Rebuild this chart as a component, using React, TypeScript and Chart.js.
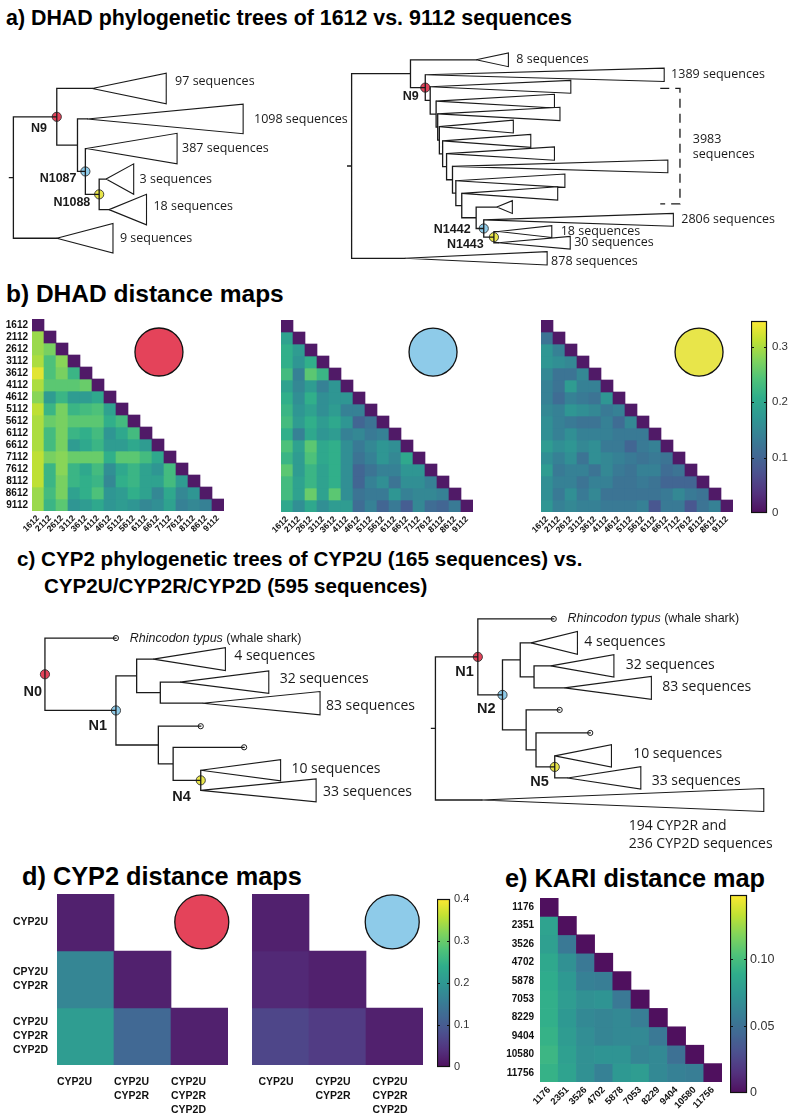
import React, { useEffect, useRef } from 'react';
import { Chart, registerables } from 'chart.js';

Chart.register(...registerables);

const SANS = '"Liberation Sans", Arial, Helvetica, sans-serif';
const HUM = '"Open Sans", "Noto Sans", sans-serif';
const RED = '#e4435a';
const BLUE = '#8ecbe9';
const YELLOW = '#e8e54a';

// ---------------- DATA: DHAD distance maps (lower triangle, row i has columns 0..i-1) ----------------
const DHAD_LABELS = ['1612', '2112', '2612', '3112', '3612', '4112', '4612', '5112', '5612', '6112', '6612', '7112', '7612', '8112', '8612', '9112'];
const DHAD_N9 = [
  [0.29],
  [0.29, 0.27],
  [0.30, 0.24, 0.28],
  [0.33, 0.24, 0.27, 0.22],
  [0.30, 0.25, 0.25, 0.25, 0.26],
  [0.28, 0.18, 0.22, 0.18, 0.18, 0.20],
  [0.31, 0.22, 0.27, 0.22, 0.23, 0.24, 0.19],
  [0.30, 0.26, 0.27, 0.25, 0.25, 0.25, 0.21, 0.23],
  [0.30, 0.23, 0.27, 0.22, 0.21, 0.23, 0.17, 0.20, 0.23],
  [0.30, 0.23, 0.27, 0.18, 0.20, 0.22, 0.18, 0.18, 0.20, 0.18],
  [0.31, 0.27, 0.28, 0.26, 0.26, 0.26, 0.21, 0.25, 0.25, 0.23, 0.20],
  [0.31, 0.22, 0.28, 0.22, 0.20, 0.23, 0.16, 0.20, 0.22, 0.19, 0.17, 0.23],
  [0.31, 0.22, 0.27, 0.22, 0.21, 0.22, 0.15, 0.21, 0.22, 0.19, 0.19, 0.23, 0.18],
  [0.29, 0.23, 0.27, 0.19, 0.21, 0.24, 0.17, 0.18, 0.21, 0.19, 0.15, 0.20, 0.15, 0.17],
  [0.29, 0.22, 0.25, 0.17, 0.18, 0.20, 0.17, 0.18, 0.17, 0.15, 0.16, 0.19, 0.14, 0.15, 0.14],
];
const DHAD_N1087 = [
  [0.19],
  [0.21, 0.18],
  [0.21, 0.17, 0.21],
  [0.23, 0.14, 0.25, 0.22],
  [0.19, 0.15, 0.18, 0.14, 0.17],
  [0.21, 0.16, 0.21, 0.16, 0.17, 0.17],
  [0.22, 0.17, 0.19, 0.16, 0.18, 0.14, 0.14],
  [0.23, 0.18, 0.21, 0.18, 0.20, 0.17, 0.10, 0.12],
  [0.21, 0.14, 0.20, 0.17, 0.18, 0.14, 0.15, 0.13, 0.14],
  [0.24, 0.19, 0.25, 0.20, 0.21, 0.16, 0.13, 0.15, 0.17, 0.16],
  [0.22, 0.18, 0.24, 0.20, 0.21, 0.16, 0.12, 0.14, 0.17, 0.15, 0.20],
  [0.25, 0.18, 0.22, 0.19, 0.21, 0.16, 0.10, 0.12, 0.14, 0.14, 0.17, 0.17],
  [0.23, 0.19, 0.22, 0.19, 0.21, 0.16, 0.10, 0.14, 0.16, 0.12, 0.16, 0.16, 0.14],
  [0.23, 0.19, 0.26, 0.19, 0.25, 0.16, 0.12, 0.13, 0.13, 0.17, 0.14, 0.15, 0.15, 0.14],
  [0.20, 0.16, 0.20, 0.16, 0.18, 0.18, 0.11, 0.14, 0.10, 0.13, 0.09, 0.15, 0.11, 0.10, 0.13],
];
const DHAD_N1088 = [
  [0.12],
  [0.17, 0.14],
  [0.17, 0.16, 0.15],
  [0.15, 0.12, 0.12, 0.15],
  [0.14, 0.12, 0.18, 0.14, 0.14],
  [0.14, 0.11, 0.14, 0.13, 0.12, 0.17],
  [0.15, 0.14, 0.17, 0.16, 0.15, 0.13, 0.14],
  [0.16, 0.14, 0.13, 0.12, 0.12, 0.14, 0.11, 0.15],
  [0.16, 0.14, 0.16, 0.14, 0.14, 0.14, 0.13, 0.13, 0.13],
  [0.18, 0.16, 0.17, 0.15, 0.16, 0.13, 0.13, 0.10, 0.13, 0.14],
  [0.16, 0.14, 0.16, 0.12, 0.16, 0.15, 0.14, 0.13, 0.12, 0.13, 0.12],
  [0.18, 0.13, 0.14, 0.14, 0.12, 0.15, 0.13, 0.12, 0.14, 0.14, 0.11, 0.12],
  [0.16, 0.14, 0.14, 0.12, 0.14, 0.14, 0.12, 0.12, 0.13, 0.12, 0.10, 0.10, 0.10],
  [0.16, 0.13, 0.16, 0.13, 0.15, 0.12, 0.12, 0.12, 0.12, 0.12, 0.13, 0.15, 0.13, 0.12],
  [0.17, 0.14, 0.15, 0.14, 0.14, 0.13, 0.13, 0.13, 0.14, 0.08, 0.13, 0.13, 0.08, 0.12, 0.14],
];
const DHAD_DIAG = 0.01;
const DHAD_VMAX = 0.346;
const DHAD_CBAR_TICKS = [0, 0.1, 0.2, 0.3];

// ---------------- DATA: CYP2 distance maps ----------------
const CYP2_ROW_LABELS = [['CYP2U'], ['CPY2U', 'CYP2R'], ['CYP2U', 'CYP2R', 'CYP2D']];
const CYP2_COL_LABELS = [['CYP2U'], ['CYP2U', 'CYP2R'], ['CYP2U', 'CYP2R', 'CYP2D']];
const CYP2_N0 = [[0.17], [0.21, 0.12]];
const CYP2_N1 = [[0.03], [0.068, 0.055]];
const CYP2_DIAG = 0.02;
const CYP2_VMAX = 0.4;
const CYP2_CBAR_TICKS = [0, 0.1, 0.2, 0.3, 0.4];

// ---------------- DATA: KARI distance map ----------------
const KARI_LABELS = ['1176', '2351', '3526', '4702', '5878', '7053', '8229', '9404', '10580', '11756'];
const KARI = [
  [0.082],
  [0.080, 0.055],
  [0.085, 0.070, 0.055],
  [0.088, 0.075, 0.060, 0.058],
  [0.090, 0.078, 0.070, 0.072, 0.055],
  [0.090, 0.075, 0.065, 0.062, 0.065, 0.058],
  [0.092, 0.077, 0.068, 0.062, 0.065, 0.065, 0.055],
  [0.095, 0.080, 0.070, 0.072, 0.072, 0.062, 0.065, 0.050],
  [0.092, 0.082, 0.070, 0.060, 0.075, 0.078, 0.065, 0.060, 0.058],
];
const KARI_DIAG = 0;
const KARI_VMAX = 0.148;
const KARI_CBAR_TICKS = [0, 0.05, 0.1];

// ---------------- DATA: trees (depth = horizontal branch position, pos = leaf vertical position) ----------------
type TreeNode = { id: string; parent?: string; depth: number; pos?: number; clade?: [number, number]; tip?: boolean; mark?: string; stub?: boolean };
type TreeLabel = { id: string; text: string; gap?: number; dy?: number };
type NodeLabel = { id: string; text: string; dx: number; dy: number };

const TREE_DHAD_1612: TreeNode[] = [
  { id: 'root', depth: 8, stub: true },
  { id: 'N9', parent: 'root', depth: 52, mark: RED },
  { id: 'c97', parent: 'N9', depth: 88, pos: 85, clade: [75, 16] },
  { id: 'n73', parent: 'N9', depth: 73 },
  { id: 'c1098', parent: 'n73', depth: 83, pos: 117, clade: [158, 15.5] },
  { id: 'N1087', parent: 'n73', depth: 81, mark: BLUE },
  { id: 'c387', parent: 'N1087', depth: 82, pos: 148, clade: [92, 16] },
  { id: 'N1088', parent: 'N1087', depth: 95, mark: YELLOW },
  { id: 'c3', parent: 'N1088', depth: 102, pos: 180, clade: [28, 16] },
  { id: 'c18', parent: 'N1088', depth: 105, pos: 212, clade: [38, 16] },
  { id: 'c9', parent: 'root', depth: 52, pos: 242, clade: [57, 15.5] },
];
const LABELS_DHAD_1612: TreeLabel[] = [
  { id: 'c97', text: '97 sequences', gap: 9, dy: -7 },
  { id: 'c1098', text: '1098 sequences', gap: 11 },
  { id: 'c387', text: '387 sequences', gap: 5 },
  { id: 'c3', text: '3 sequences', gap: 6 },
  { id: 'c18', text: '18 sequences', gap: 7, dy: -3 },
  { id: 'c9', text: '9 sequences', gap: 7 },
];
const NODES_DHAD_1612: NodeLabel[] = [
  { id: 'N9', text: 'N9', dx: -10, dy: 12 },
  { id: 'N1087', text: 'N1087', dx: -9, dy: 7 },
  { id: 'N1088', text: 'N1088', dx: -9, dy: 9 },
];

const TREE_DHAD_9112: TreeNode[] = [
  { id: 'root', depth: 351, stub: true },
  { id: 'P', parent: 'root', depth: 410.7 },
  { id: 'c8', parent: 'P', depth: 477.3, pos: 55, clade: [32.7, 7.2] },
  { id: 'N9', parent: 'P', depth: 425.7, mark: RED },
  { id: 'c1389', parent: 'N9', depth: 425.7, pos: 70.7, clade: [242.3, 7] },
  { id: 'L1', parent: 'N9', depth: 430.7 },
  { id: 't1', parent: 'L1', depth: 430.7, pos: 83.3, clade: [142.6, 6.7] },
  { id: 'L2', parent: 'L1', depth: 436.7 },
  { id: 't2', parent: 'L2', depth: 436.7, pos: 98.3, clade: [120, 7.2] },
  { id: 'L3', parent: 'L2', depth: 438.3 },
  { id: 't3', parent: 'L3', depth: 438.3, pos: 111.7, clade: [124, 7] },
  { id: 'L4', parent: 'L3', depth: 440 },
  { id: 't4', parent: 'L4', depth: 440, pos: 125, clade: [75, 6.7] },
  { id: 'L5', parent: 'L4', depth: 443.3 },
  { id: 't5', parent: 'L5', depth: 443.3, pos: 140, clade: [89.4, 6.8] },
  { id: 'L6', parent: 'L5', depth: 447.3 },
  { id: 't6', parent: 'L6', depth: 447.3, pos: 153.3, clade: [109.4, 7] },
  { id: 'L7', parent: 'L6', depth: 453.3 },
  { id: 't7', parent: 'L7', depth: 453.3, pos: 166.7, clade: [218.4, 6.7] },
  { id: 'L8', parent: 'L7', depth: 456.7 },
  { id: 't8', parent: 'L8', depth: 456.7, pos: 181.7, clade: [110.6, 7] },
  { id: 'L9', parent: 'L8', depth: 462.7 },
  { id: 't9', parent: 'L9', depth: 462.7, pos: 195, clade: [97.3, 7] },
  { id: 'L10', parent: 'L9', depth: 477.3 },
  { id: 't10', parent: 'L10', depth: 498.3, pos: 209.3, clade: [15.7, 6.7] },
  { id: 'N1442', parent: 'L10', depth: 485, mark: BLUE },
  { id: 'c2806', parent: 'N1442', depth: 485, pos: 222.7, clade: [192.3, 6.7] },
  { id: 'N1443', parent: 'N1442', depth: 495.3, mark: YELLOW },
  { id: 'c18', parent: 'N1443', depth: 500, pos: 235, clade: [54, 6.2] },
  { id: 'c30', parent: 'N1443', depth: 500, pos: 246.7, clade: [72.7, 6.7] },
  { id: 'c878', parent: 'root', depth: 405, pos: 263, clade: [144.3, 7] },
];
const LABELS_DHAD_9112: TreeLabel[] = [
  { id: 'c8', text: '8 sequences', gap: 8 },
  { id: 'c1389', text: '1389 sequences', gap: 7 },
  { id: 'c2806', text: '2806 sequences', gap: 8 },
  { id: 'c18', text: '18 sequences', gap: 9 },
  { id: 'c30', text: '30 sequences', gap: 4 },
  { id: 'c878', text: '878 sequences', gap: 4, dy: 3 },
];
const NODES_DHAD_9112: NodeLabel[] = [
  { id: 'N9', text: 'N9', dx: -6.7, dy: 9 },
  { id: 'N1442', text: 'N1442', dx: -13.3, dy: 1 },
  { id: 'N1443', text: 'N1443', dx: -10.3, dy: 8 },
];
const DHAD_BRACKET = { x0: 664, x1: 684, y0: 85, y1: 206, lines: ['3983', 'sequences'] };

const TREE_CYP2U: TreeNode[] = [
  { id: 'N0', depth: 40, mark: RED },
  { id: 'rh', parent: 'N0', depth: 112, pos: 634, tip: true },
  { id: 'N1', parent: 'N0', depth: 112, mark: BLUE },
  { id: 'n133', parent: 'N1', depth: 133 },
  { id: 'c4', parent: 'n133', depth: 150, pos: 656, clade: [73, 12] },
  { id: 'n157', parent: 'n133', depth: 157 },
  { id: 'c32', parent: 'n157', depth: 177, pos: 680, clade: [90, 11.7] },
  { id: 'c83', parent: 'n157', depth: 200, pos: 702, clade: [119, 12.2] },
  { id: 'n155', parent: 'N1', depth: 155 },
  { id: 'tp1', parent: 'n155', depth: 198, pos: 726, tip: true },
  { id: 'n170', parent: 'n155', depth: 170 },
  { id: 'tp2', parent: 'n170', depth: 242, pos: 748, tip: true },
  { id: 'N4', parent: 'n170', depth: 198, mark: YELLOW },
  { id: 'c10', parent: 'N4', depth: 198, pos: 772, clade: [81, 11] },
  { id: 'c33', parent: 'N4', depth: 198, pos: 793, clade: [117, 12] },
];
const LABELS_CYP2U: TreeLabel[] = [
  { id: 'c4', text: '4 sequences', gap: 9, dy: -3 },
  { id: 'c32', text: '32 sequences', gap: 11, dy: -3 },
  { id: 'c83', text: '83 sequences', gap: 6, dy: 3 },
  { id: 'c10', text: '10 sequences', gap: 11, dy: -1 },
  { id: 'c33', text: '33 sequences', gap: 7, dy: 2 },
];
const NODES_CYP2U: NodeLabel[] = [
  { id: 'N0', text: 'N0', dx: -3, dy: 18 },
  { id: 'N1', text: 'N1', dx: -9, dy: 16.5 },
  { id: 'N4', text: 'N4', dx: -10, dy: 17.5 },
];

const TREE_CYP2URD: TreeNode[] = [
  { id: 'R', depth: 436, stub: true },
  { id: 'N1', parent: 'R', depth: 479, mark: RED },
  { id: 'rh', parent: 'N1', depth: 556, pos: 614, tip: true },
  { id: 'N2', parent: 'N1', depth: 504, mark: BLUE },
  { id: 'm522', parent: 'N2', depth: 522 },
  { id: 'c4', parent: 'm522', depth: 533, pos: 639, clade: [47, 12] },
  { id: 'm536', parent: 'm522', depth: 536 },
  { id: 'c32', parent: 'm536', depth: 553, pos: 663, clade: [64, 11.7] },
  { id: 'c83', parent: 'm536', depth: 567, pos: 686, clade: [88, 12] },
  { id: 'm528', parent: 'N2', depth: 528 },
  { id: 'tp1', parent: 'm528', depth: 562, pos: 709, tip: true },
  { id: 'm538', parent: 'm528', depth: 538 },
  { id: 'tp2', parent: 'm538', depth: 593, pos: 733, tip: true },
  { id: 'N5', parent: 'm538', depth: 557, mark: YELLOW },
  { id: 'c10', parent: 'N5', depth: 557, pos: 757, clade: [57.5, 11.7] },
  { id: 'c33', parent: 'N5', depth: 570, pos: 780, clade: [74.3, 11.7] },
  { id: 'c194', parent: 'R', depth: 483, pos: 803, clade: [286, 12] },
];
const LABELS_CYP2URD: TreeLabel[] = [
  { id: 'c4', text: '4 sequences', gap: 7, dy: -1 },
  { id: 'c32', text: '32 sequences', gap: 12, dy: -1 },
  { id: 'c83', text: '83 sequences', gap: 11, dy: -1 },
  { id: 'c10', text: '10 sequences', gap: 22, dy: -2 },
  { id: 'c33', text: '33 sequences', gap: 11, dy: 3 },
];
const NODES_CYP2URD: NodeLabel[] = [
  { id: 'N1', text: 'N1', dx: -4, dy: 15.5 },
  { id: 'N2', text: 'N2', dx: -7, dy: 15 },
  { id: 'N5', text: 'N5', dx: -6, dy: 16 },
];
const CYP2R_D_LINES = ['194 CYP2R and', '236 CYP2D sequences'];
const SHARK = ['Rhincodon typus', ' (whale shark)'];

// ---------------- helpers ----------------
const VIRIDIS_STOPS = ['#440154', '#482475', '#414487', '#355f8d', '#2a788e', '#21918c', '#22a884', '#44bf70', '#7ad151', '#bddf26', '#fde725'];
function hexToRgb(h: string) {
  return [parseInt(h.slice(1, 3), 16), parseInt(h.slice(3, 5), 16), parseInt(h.slice(5, 7), 16)];
}
function viridis(t: number): string {
  const u = Math.max(0, Math.min(1, t)) * (VIRIDIS_STOPS.length - 1);
  const i = Math.min(VIRIDIS_STOPS.length - 2, Math.floor(u));
  const f = u - i;
  const a = hexToRgb(VIRIDIS_STOPS[i]);
  const b = hexToRgb(VIRIDIS_STOPS[i + 1]);
  const mix = 0.06;
  const c = a.map((v, k) => Math.round((v + (b[k] - v) * f) * (1 - mix) + 255 * mix));
  return `rgb(${c[0]},${c[1]},${c[2]})`;
}

type TextItem = { x: number; y: number; align?: 'left' | 'right'; parts: { text: string; font: string }[] };

function buildTree(nodes: TreeNode[], cladeLabels: TreeLabel[], nodeLabels: NodeLabel[], cladeFont: string, nodeFont: string) {
  const kids: Record<string, TreeNode[]> = {};
  nodes.forEach((n) => {
    if (n.parent) (kids[n.parent] = kids[n.parent] || []).push(n);
  });
  const byId: Record<string, TreeNode> = {};
  nodes.forEach((n) => (byId[n.id] = n));
  const ys: Record<string, number> = {};
  const yOf = (n: TreeNode): number => {
    if (ys[n.id] !== undefined) return ys[n.id];
    let y: number;
    if (n.pos !== undefined) y = n.pos;
    else {
      const cy = kids[n.id].map(yOf);
      y = (Math.min(...cy) + Math.max(...cy)) / 2;
    }
    ys[n.id] = y;
    return y;
  };
  nodes.forEach(yOf);
  const branches: any[] = [];
  const triangles: any[] = [];
  const marks: any[] = [];
  const markColors: string[] = [];
  const tips: any[] = [];
  const gap = () => ({ x: 0, y: null });
  nodes.forEach((n) => {
    const y = ys[n.id];
    if (n.parent) branches.push({ x: byId[n.parent].depth, y }, { x: n.depth, y }, gap());
    else if (n.stub) branches.push({ x: n.depth - 4, y }, { x: n.depth, y }, gap());
    if (kids[n.id]) {
      const cy = kids[n.id].map((k) => ys[k.id]);
      branches.push({ x: n.depth, y: Math.min(...cy) }, { x: n.depth, y: Math.max(...cy) }, gap());
    }
    if (n.clade) {
      const [len, h] = n.clade;
      triangles.push({ x: n.depth, y }, { x: n.depth + len, y: y - h }, { x: n.depth + len, y: y + h }, { x: n.depth, y }, gap());
    }
    if (n.mark) {
      marks.push({ x: n.depth, y });
      markColors.push(n.mark);
    }
    if (n.tip) tips.push({ x: n.depth, y });
  });
  const texts: TextItem[] = [];
  cladeLabels.forEach((l) => {
    const n = byId[l.id];
    const x = n.depth + (n.clade ? n.clade[0] : 0) + (l.gap ?? 7);
    texts.push({ x, y: ys[l.id] + (l.dy ?? 0), parts: [{ text: l.text, font: cladeFont }] });
  });
  nodeLabels.forEach((l) => {
    const n = byId[l.id];
    texts.push({ x: n.depth + l.dx, y: ys[l.id] + l.dy, align: 'right', parts: [{ text: l.text, font: nodeFont }] });
  });
  return { byId, ys, branches, triangles, marks, markColors, tips, texts };
}

function textPlugin(items: TextItem[]) {
  return {
    id: 'textItems',
    afterDatasetsDraw(chart: any) {
      const { ctx, scales } = chart;
      ctx.save();
      ctx.fillStyle = '#1a1a1a';
      ctx.textBaseline = 'middle';
      items.forEach((it) => {
        let px = scales.x.getPixelForValue(it.x);
        const py = scales.y.getPixelForValue(it.y);
        if (it.align === 'right') {
          let w = 0;
          it.parts.forEach((p) => {
            ctx.font = p.font;
            w += ctx.measureText(p.text).width;
          });
          px -= w;
        }
        ctx.textAlign = 'left';
        it.parts.forEach((p) => {
          ctx.font = p.font;
          ctx.fillText(p.text, px, py);
          px += ctx.measureText(p.text).width;
        });
      });
      ctx.restore();
    },
  };
}

type TreeSpec = { trees: ReturnType<typeof buildTree>[]; dashed?: any[]; texts: TextItem[] };

function TreePanel({ top, height, spec }: { top: number; height: number; spec: TreeSpec }) {
  const ref = useRef<HTMLCanvasElement>(null);
  useEffect(() => {
    const branches = spec.trees.flatMap((t) => t.branches);
    const triangles = spec.trees.flatMap((t) => t.triangles);
    const marks = spec.trees.flatMap((t) => t.marks);
    const markColors = spec.trees.flatMap((t) => t.markColors);
    const tips = spec.trees.flatMap((t) => t.tips);
    const texts = spec.trees.flatMap((t) => t.texts).concat(spec.texts);
    const lineBase = { type: 'line', pointRadius: 0, fill: false, tension: 0, spanGaps: false, borderColor: '#1a1a1a', clip: false };
    const datasets: any[] = [
      { ...lineBase, data: branches, borderWidth: 1.3, borderCapStyle: 'square' },
      { ...lineBase, data: triangles, borderWidth: 1.1, borderJoinStyle: 'miter' },
    ];
    if (spec.dashed) datasets.push({ ...lineBase, data: spec.dashed, borderWidth: 1.3, borderDash: [9, 6] });
    datasets.push({ type: 'scatter', data: tips, pointRadius: 2.6, backgroundColor: '#ffffff', borderColor: '#1a1a1a', borderWidth: 1, clip: false });
    datasets.push({ type: 'scatter', data: marks, pointRadius: 4.6, backgroundColor: markColors, borderColor: '#333', borderWidth: 0.9, clip: false });
    const chart = new Chart(ref.current as HTMLCanvasElement, {
      type: 'scatter',
      data: { datasets },
      options: {
        responsive: false,
        animation: false,
        devicePixelRatio: 1,
        layout: { padding: 0 },
        plugins: { legend: { display: false }, tooltip: { enabled: false } },
        scales: {
          x: { type: 'linear', display: false, min: 0, max: 790 },
          y: { type: 'linear', display: false, min: top, max: top + height, reverse: true },
        },
      } as any,
      plugins: [textPlugin(texts)],
    } as any);
    return () => chart.destroy();
  }, []);
  return <canvas ref={ref} width={790} height={height} style={{ position: 'absolute', left: 0, top, width: 790, height }} />;
}

type HeatSpec = {
  x0: number; y0: number; x1: number; y1: number; lw: number; pt: number; pr: number; bh: number;
  cols: any[]; rows: any[]; lower: number[][]; diag: number; vmax: number;
  showRows: boolean; rowSize: number; rowPad: number; colSize: number; colRot: number; colPad: number; colAlign?: string; colOffset?: number;
  circle?: { col: number; row: number; r: number; color: string };
};

function zeroPad(sc: any) {
  sc.paddingLeft = 0;
  sc.paddingRight = 0;
  sc.paddingTop = 0;
  sc.paddingBottom = 0;
}

function Heatmap({ s }: { s: HeatSpec }) {
  const ref = useRef<HTMLCanvasElement>(null);
  const W = s.x1 - s.x0 + s.lw + s.pr;
  const H = s.y1 - s.y0 + s.pt + s.bh;
  useEffect(() => {
    const n = s.rows.length;
    const datasets = s.rows.map((_, r) => ({
      data: s.cols.map((_c, c) => (c <= r ? [r, r + 1] : null)),
      backgroundColor: s.cols.map((_c, c) => (c <= r ? viridis((c === r ? s.diag : s.lower[r - 1][c]) / s.vmax) : 'rgba(0,0,0,0)')),
      borderWidth: 0,
      barPercentage: 1,
      categoryPercentage: 1,
      grouped: false,
    }));
    const marker = {
      id: 'hmMarker',
      afterDatasetsDraw(chart: any) {
        if (!s.circle) return;
        const { ctx, scales } = chart;
        const cx = scales.x.getPixelForValue(s.circle.col);
        const cy = scales.y.getPixelForValue(s.circle.row);
        ctx.save();
        ctx.beginPath();
        ctx.arc(cx, cy, s.circle.r, 0, Math.PI * 2);
        ctx.fillStyle = s.circle.color;
        ctx.fill();
        ctx.lineWidth = 1.3;
        ctx.strokeStyle = '#111';
        ctx.stroke();
        ctx.restore();
      },
    };
    const chart = new Chart(ref.current as HTMLCanvasElement, {
      type: 'bar',
      data: { labels: s.cols, datasets },
      options: {
        responsive: false,
        animation: false,
        devicePixelRatio: 1,
        layout: { padding: { top: s.pt, right: s.pr, left: 0, bottom: 0 } },
        plugins: { legend: { display: false }, tooltip: { enabled: false } },
        scales: {
          x: {
            grid: { display: false, drawTicks: false },
            border: { display: false },
            afterFit: (sc: any) => { sc.height = s.bh; zeroPad(sc); },
            ticks: {
              autoSkip: false,
              minRotation: s.colRot,
              maxRotation: s.colRot,
              padding: s.colPad,
              align: s.colAlign ?? 'center',
              labelOffset: s.colOffset ?? 0,
              color: '#111',
              font: { family: SANS, weight: 'bold', size: s.colSize, lineHeight: 1.33 },
            },
          },
          y: {
            type: 'linear',
            min: 0,
            max: n,
            reverse: true,
            grid: { display: false, drawTicks: false },
            border: { display: false },
            afterBuildTicks: (sc: any) => { sc.ticks = s.rows.map((_r, i) => ({ value: i + 0.5 })); },
            afterFit: (sc: any) => { sc.width = s.lw; zeroPad(sc); },
            ticks: {
              display: s.showRows,
              autoSkip: false,
              padding: s.rowPad,
              color: '#111',
              font: { family: SANS, weight: 'bold', size: s.rowSize, lineHeight: 1.33 },
              callback: (v: any) => s.rows[Math.floor(Number(v))],
            },
          },
        },
      } as any,
      plugins: [marker],
    } as any);
    return () => chart.destroy();
  }, []);
  return <canvas ref={ref} width={W} height={H} style={{ position: 'absolute', left: s.x0 - s.lw, top: s.y0 - s.pt, width: W, height: H }} />;
}

type BarSpec = { x0: number; y0: number; x1: number; y1: number; rw: number; vmax: number; ticks: number[]; digits: number; size: number; pad: number };

function Colorbar({ s }: { s: BarSpec }) {
  const ref = useRef<HTMLCanvasElement>(null);
  const W = s.x1 - s.x0 + s.rw;
  const H = s.y1 - s.y0 + 20;
  useEffect(() => {
    const frame = {
      id: 'cbFrame',
      afterDatasetsDraw(chart: any) {
        const { ctx, chartArea: a, scales } = chart;
        ctx.save();
        ctx.strokeStyle = '#111';
        ctx.lineWidth = 1.2;
        ctx.strokeRect(a.left + 0.5, a.top + 0.5, a.right - a.left - 1, a.bottom - a.top - 1);
        s.ticks.forEach((v) => {
          if (v === 0) return;
          const py = Math.round(scales.y.getPixelForValue(v)) + 0.5;
          ctx.beginPath();
          ctx.moveTo(a.left, py);
          ctx.lineTo(a.left + 3, py);
          ctx.moveTo(a.right - 3, py);
          ctx.lineTo(a.right, py);
          ctx.stroke();
        });
        ctx.restore();
      },
    };
    const chart = new Chart(ref.current as HTMLCanvasElement, {
      type: 'bar',
      data: {
        labels: [''],
        datasets: [
          {
            data: [[0, s.vmax]],
            backgroundColor: (ctx: any) => {
              const a = ctx.chart.chartArea;
              if (!a) return '#888';
              const g = ctx.chart.ctx.createLinearGradient(0, a.bottom, 0, a.top);
              for (let i = 0; i <= 40; i++) g.addColorStop(i / 40, viridis(i / 40));
              return g;
            },
            borderWidth: 0,
            barPercentage: 1,
            categoryPercentage: 1,
          },
        ],
      },
      options: {
        responsive: false,
        animation: false,
        devicePixelRatio: 1,
        layout: { padding: { top: 10, bottom: 10, left: 0, right: 0 } },
        plugins: { legend: { display: false }, tooltip: { enabled: false } },
        scales: {
          x: { display: false },
          y: {
            position: 'right',
            min: 0,
            max: s.vmax,
            grid: { display: false, drawTicks: false },
            border: { display: false },
            afterBuildTicks: (sc: any) => { sc.ticks = s.ticks.map((v) => ({ value: v })); },
            afterFit: (sc: any) => { sc.width = s.rw; zeroPad(sc); },
            ticks: {
              padding: s.pad,
              color: '#333',
              font: { family: SANS, size: s.size },
              callback: (v: any) => (Number(v) === 0 ? '0' : Number(v).toFixed(s.digits)),
            },
          },
        },
      } as any,
      plugins: [frame],
    } as any);
    return () => chart.destroy();
  }, []);
  return <canvas ref={ref} width={W} height={H} style={{ position: 'absolute', left: s.x0, top: s.y0 - 10, width: W, height: H }} />;
}

// ---------------- assemble ----------------
const FONT_A = `12.5px ${HUM}`;
const FONT_A_NODE = `bold 12.5px ${SANS}`;
const FONT_C = `14px ${HUM}`;
const FONT_C_NODE = `bold 14.5px ${SANS}`;

function panelA(): TreeSpec {
  const t1 = buildTree(TREE_DHAD_1612, LABELS_DHAD_1612, NODES_DHAD_1612, FONT_A, FONT_A_NODE);
  const t2 = buildTree(TREE_DHAD_9112, LABELS_DHAD_9112, NODES_DHAD_9112, FONT_A, FONT_A_NODE);
  const b = DHAD_BRACKET;
  const dashed = [
    { x: b.x0, y: b.y0 }, { x: b.x1, y: b.y0 }, { x: b.x1, y: b.y1 }, { x: b.x0, y: b.y1 },
  ];
  const texts: TextItem[] = b.lines.map((t, i) => ({ x: b.x1 + 13, y: (b.y0 + b.y1) / 2 - 7 + i * 16, parts: [{ text: t, font: FONT_A }] }));
  return { trees: [t1, t2], dashed, texts };
}

function panelC(): TreeSpec {
  const t1 = buildTree(TREE_CYP2U, LABELS_CYP2U, NODES_CYP2U, FONT_C, FONT_C_NODE);
  const t2 = buildTree(TREE_CYP2URD, LABELS_CYP2URD, NODES_CYP2URD, FONT_C, FONT_C_NODE);
  const shark = (t: ReturnType<typeof buildTree>): TextItem => ({
    x: t.byId['rh'].depth + 14,
    y: t.ys['rh'],
    parts: [
      { text: SHARK[0], font: `italic 12.5px ${SANS}` },
      { text: SHARK[1], font: `12.5px ${SANS}` },
    ],
  });
  const c194 = t2.byId['c194'];
  const texts: TextItem[] = [shark(t1), shark(t2)].concat(
    CYP2R_D_LINES.map((t, i) => ({ x: c194.depth + 149, y: t2.ys['c194'] + 27 + i * 19, parts: [{ text: t, font: FONT_C }] })),
  );
  return { trees: [t1, t2], texts };
}

const HEAT_B_COMMON = { pt: 6, pr: 6, bh: 34, cols: DHAD_LABELS, rows: DHAD_LABELS, diag: DHAD_DIAG, vmax: DHAD_VMAX, rowSize: 10, rowPad: 4, colSize: 8.6, colRot: 45, colPad: 2 };
const HEAT_B: HeatSpec[] = [
  { ...HEAT_B_COMMON, x0: 32, y0: 319, x1: 224, y1: 511, lw: 32, lower: DHAD_N9, showRows: true, circle: { col: 10.08, row: 2.75, r: 24, color: RED } },
  { ...HEAT_B_COMMON, x0: 281, y0: 320, x1: 473, y1: 512, lw: 24, lower: DHAD_N1087, showRows: false, circle: { col: 12.17, row: 2.67, r: 24, color: BLUE } },
  { ...HEAT_B_COMMON, x0: 541, y0: 320, x1: 733, y1: 512, lw: 24, lower: DHAD_N1088, showRows: false, circle: { col: 12.67, row: 2.67, r: 24, color: YELLOW } },
];
const HEAT_D_COMMON = { y0: 894, y1: 1065, pt: 4, pr: 8, bh: 51, cols: CYP2_COL_LABELS, rows: CYP2_ROW_LABELS, diag: CYP2_DIAG, vmax: CYP2_VMAX, rowSize: 10.5, rowPad: 9, colSize: 10.5, colRot: 0, colPad: 10, colAlign: 'start' };
const HEAT_D: HeatSpec[] = [
  { ...HEAT_D_COMMON, x0: 57, x1: 228, lw: 57, lower: CYP2_N0, showRows: true, colOffset: -28.5, circle: { col: 2.04, row: 0.49, r: 27, color: RED } },
  { ...HEAT_D_COMMON, x0: 252, x1: 423, lw: 20, lower: CYP2_N1, showRows: false, colOffset: -22, circle: { col: 1.96, row: 0.49, r: 27, color: BLUE } },
];
const HEAT_E: HeatSpec = {
  x0: 540, y0: 898, x1: 722, y1: 1082, lw: 60, pt: 4, pr: 6, bh: 34, cols: KARI_LABELS, rows: KARI_LABELS, lower: KARI, diag: KARI_DIAG, vmax: KARI_VMAX,
  showRows: true, rowSize: 10, rowPad: 6, colSize: 9.5, colRot: 45, colPad: 2,
};
const BARS: BarSpec[] = [
  { x0: 751, y0: 321, x1: 767, y1: 513, rw: 23, vmax: DHAD_VMAX, ticks: DHAD_CBAR_TICKS, digits: 1, size: 11.5, pad: 5 },
  { x0: 437, y0: 899, x1: 450, y1: 1067, rw: 30, vmax: CYP2_VMAX, ticks: CYP2_CBAR_TICKS, digits: 1, size: 11, pad: 4 },
  { x0: 730, y0: 895, x1: 747, y1: 1093, rw: 45, vmax: KARI_VMAX, ticks: KARI_CBAR_TICKS, digits: 2, size: 12.5, pad: 3 },
];

const TITLES = [
  { text: 'a) DHAD phylogenetic trees of 1612 vs. 9112 sequences', x: 6, base: 26, size: 21.4 },
  { text: 'b) DHAD distance maps', x: 6, base: 303, size: 24.5 },
  { text: 'c) CYP2 phylogenetic trees of CYP2U (165 sequences) vs.', x: 17, base: 566, size: 20.6 },
  { text: 'CYP2U/CYP2R/CYP2D (595 sequences)', x: 44, base: 593, size: 20.6 },
  { text: 'd) CYP2 distance maps', x: 22, base: 885, size: 25.3 },
  { text: 'e) KARI distance map', x: 505, base: 887, size: 25.3 },
];

export default function App() {
  const a = panelA();
  const c = panelC();
  return (
    <div style={{ position: 'absolute', left: 0, top: 0, width: 790, height: 1116, background: '#fff', overflow: 'hidden' }}>
      {TITLES.map((t, i) => (
        <div
          key={i}
          style={{
            position: 'absolute',
            left: t.x,
            top: t.base - 0.8465 * t.size,
            fontFamily: SANS,
            fontWeight: 'bold',
            fontSize: t.size,
            lineHeight: `${t.size}px`,
            whiteSpace: 'nowrap',
            color: '#000',
          }}
        >
          {t.text}
        </div>
      ))}
      <TreePanel top={40} height={240} spec={a} />
      <TreePanel top={600} height={262} spec={c} />
      {HEAT_B.map((s, i) => (
        <Heatmap key={'b' + i} s={s} />
      ))}
      {HEAT_D.map((s, i) => (
        <Heatmap key={'d' + i} s={s} />
      ))}
      <Heatmap s={HEAT_E} />
      {BARS.map((s, i) => (
        <Colorbar key={'cb' + i} s={s} />
      ))}
    </div>
  );
}
